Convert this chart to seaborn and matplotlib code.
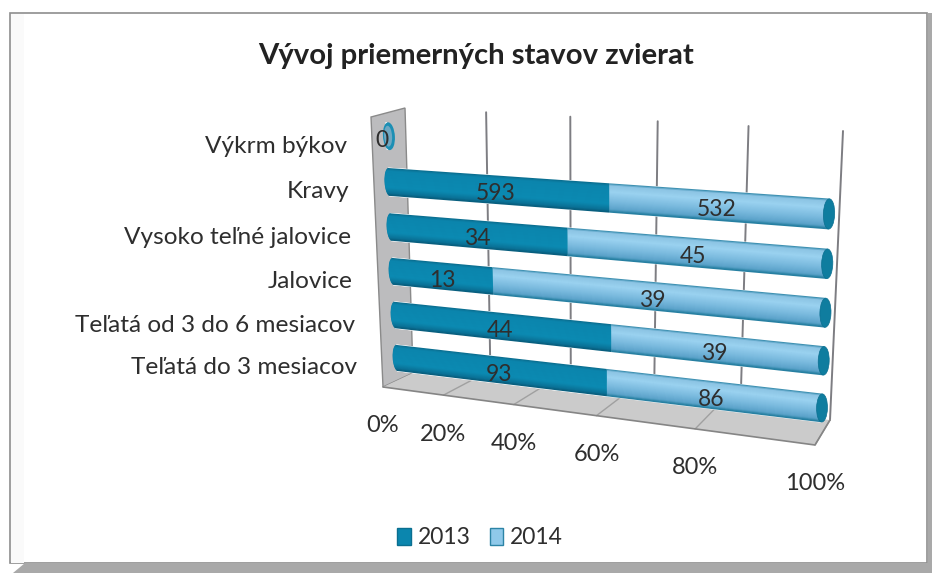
import numpy as np
import pandas as pd
import matplotlib
matplotlib.use("Agg")
import matplotlib.pyplot as plt
import matplotlib.transforms as mtransforms
from matplotlib.colors import LinearSegmentedColormap
from matplotlib.patches import Ellipse, Patch, Polygon, Rectangle
import seaborn as sns

# Data, top row first
categories = ["Výkrm býkov", "Kravy", "Vysoko teľné jalovice", "Jalovice",
              "Teľatá od 3 do 6 mesiacov", "Teľatá do 3 mesiacov"]
values_2013 = [0, 593, 34, 13, 44, 93]
values_2014 = [0, 532, 45, 39, 39, 86]
pct_ticks = [0, 20, 40, 60, 80, 100]
title = "Vývoj priemerných stavov zvierat"

W, H = 932, 573
sns.set_theme(style="white")
plt.rcParams["font.family"] = ["Lato", "DejaVu Sans"]
TEXT = "#2e2e2e"


class Perspective(mtransforms.Transform):
    # four corner homography, the chart was a tilted 3D one in the original
    input_dims = 2
    output_dims = 2
    has_inverse = False

    def __init__(self, src, dst):
        super().__init__()
        A, b = [], []
        for (x, y), (u, v) in zip(src, dst):
            A.append([x, y, 1, 0, 0, 0, -u * x, -u * y])
            A.append([0, 0, 0, x, y, 1, -v * x, -v * y])
            b += [u, v]
        self.m = np.append(np.linalg.solve(np.array(A, float), np.array(b, float)), 1).reshape(3, 3)

    def transform_non_affine(self, values):
        values = np.asarray(values, float)
        p = np.c_[values, np.ones(len(values))] @ self.m.T
        return p[:, :2] / p[:, 2:]


fig = plt.figure(figsize=(W / 100, H / 100), dpi=100, facecolor="white")
ax = fig.add_axes([0, 0, 1, 1])
ax.set_axis_off()

to_px = mtransforms.Affine2D().scale(1, -1).translate(0, H)
px = to_px + mtransforms.IdentityTransform()
bars_T = Perspective([(0, 1), (100, 1), (0, 5), (100, 5)],
                     [(389, 182), (829, 214), (397, 358), (822, 408)]) + to_px
back_T = Perspective([(0, 0), (100, 0), (0, 1), (100, 1)],
                     [(413, 373), (830, 420), (405, 108), (843, 131)]) + to_px
floor_T = Perspective([(0, 0), (100, 0), (0, 1), (100, 1)],
                      [(383, 387), (815, 445), (413, 373), (830, 420)]) + to_px

# paper, frame and shadow
ax.add_patch(Rectangle((10, 13), 917, 550, fc="white", ec="#8e8e8e", lw=1.2, transform=px, clip_on=False, zorder=0))
ax.add_patch(Rectangle((11, 14), 13, 549, fc="#fafafa", ec="none", transform=px, clip_on=False, zorder=0.2))
ax.add_patch(Polygon([(13, 573), (25, 563), (927.5, 563), (932, 563), (932, 573)], fc="#a9a9a9", ec="none",
                     transform=px, clip_on=False, zorder=0.5))
ax.add_patch(Rectangle((927.5, 13), 5, 552, fc="#a9a9a9", ec="none", transform=px, clip_on=False, zorder=0.5))

# walls
ax.add_patch(Polygon([(371, 117), (405, 108), (413, 373), (383, 387)], fc="#bcbcbe", ec="#8a8a8a", lw=1,
                     transform=px, clip_on=False, zorder=1))
ax.add_patch(Polygon([(0, 0), (100, 0), (100, 1), (0, 1)], fc="#cbcbcb", ec="none",
                     transform=floor_T, clip_on=False, zorder=1))
for t in pct_ticks[1:]:
    ax.plot([t, t], [0, 1], color="#7d7d82", lw=1.4, transform=back_T, clip_on=False, zorder=1.5)
    ax.plot([t, t], [0, 1], color="#a0a0a0", lw=1, transform=floor_T, clip_on=False, zorder=1.5)
ax.plot([0, 100, 100], [0, 0, 1], color="#858585", lw=1.2, transform=floor_T, clip_on=False, zorder=1.6)

# bars
df = pd.DataFrame({"category": categories, "y2013": values_2013, "y2014": values_2014})
df["total"] = df["y2013"] + df["y2014"]
df["share"] = (df["y2013"] / df["total"] * 100).fillna(0)
df["full"] = np.where(df["total"] > 0, 100.0, 0.0)

before = len(ax.patches)
sns.barplot(data=df, y="category", x="full", color="#8fc9ea", orient="y", width=0.6, saturation=1, ax=ax, zorder=2)
sns.barplot(data=df, y="category", x="share", color="#0b86ae", orient="y", width=0.6, saturation=1, ax=ax, zorder=2)
bar_patches = list(ax.patches[before:])

# cylinder shading in thin strips
dark_cm = LinearSegmentedColormap.from_list("d", [(0, "#0a6b8c"), (0.1, "#0b85ad"), (0.72, "#0b8ab2"),
                                                  (0.92, "#0a7196"), (1, "#075a7a")])
light_cm = LinearSegmentedColormap.from_list("l", [(0, "#2c84a6"), (0.08, "#8cc4e4"), (0.3, "#9ad2f0"),
                                                   (0.65, "#78b8dd"), (0.9, "#5aa2c9"), (1, "#1d7a9b")])
n_strips = 28
cap = 1.15
strip_h = 0.6 / n_strips
for i, row in df.iterrows():
    if row["total"] == 0:
        continue
    start = Ellipse((0, i), 2 * cap, 0.6, fc="#0b80a8", ec="none", zorder=2.05)
    ax.add_patch(start)
    bar_patches.append(start)
    for k in range(n_strips):
        u = (k + 0.5) / n_strips
        y = i - 0.3 + u * 0.6
        bulge = cap * np.sqrt(1 - (2 * u - 1) ** 2)
        bar_patches += ax.barh(y, 100 - row["share"], height=strip_h * 1.6, left=row["share"],
                               color=light_cm(u), lw=0, zorder=2.1).patches
        bar_patches += ax.barh(y, row["share"] + bulge * 0.9, height=strip_h * 1.6, left=-bulge * 0.9,
                               color=dark_cm(u), lw=0, zorder=2.2).patches
    end = Ellipse((100, i), 2 * cap, 0.6, fc="#0f7d9f", ec="#0b6f90", lw=0.5, zorder=2.3)
    ax.add_patch(end)
    bar_patches.append(end)

# the empty row only shows as a small disc
for i, row in df[df["total"] == 0].iterrows():
    outer = Ellipse((0.5, i), 3.0, 0.6, fc="#1c8fb4", ec="none", zorder=2.3)
    inner = Ellipse((0.3, i), 2.0, 0.45, fc="#6fa8c2", ec="none", zorder=2.4)
    ax.add_patch(outer)
    ax.add_patch(inner)
    bar_patches += [outer, inner]

for p in bar_patches:
    p.set_transform(bars_T)
    p.set_clip_on(False)

# value labels
for i, row in df.iterrows():
    if row["total"] == 0:
        ax.annotate(str(row["y2013"]), xy=(0, i), xycoords=bars_T, xytext=(-5, -4), textcoords="offset pixels",
                    ha="center", va="center", fontsize=16.5, color=TEXT, zorder=5)
        continue
    ax.annotate(str(row["y2013"]), xy=(row["share"] / 2, i), xycoords=bars_T, xytext=(0, -4),
                textcoords="offset pixels", ha="center", va="center", fontsize=16.5, color=TEXT, zorder=5)
    ax.annotate(str(row["y2014"]), xy=((row["share"] + 100) / 2, i), xycoords=bars_T, xytext=(0, -4),
                textcoords="offset pixels", ha="center", va="center", fontsize=16.5, color=TEXT, zorder=5)

# category labels and percent ticks
for i, name in enumerate(categories):
    ax.annotate(name, xy=(0, i), xycoords=bars_T, xytext=(-40, -10), textcoords="offset pixels",
                ha="right", va="center", fontsize=17.6, color=TEXT)
for t in pct_ticks:
    ax.annotate(f"{t}%", xy=(t, 0), xycoords=floor_T, xytext=(0, -39), textcoords="offset pixels",
                ha="center", va="center", fontsize=17, color=TEXT)

fig.text(476 / W, 1 - 56 / H, title, ha="center", va="center", fontsize=21.1, fontweight="bold", color="#222222")

handles = [Patch(fc="#0b86ae", ec="#0a6f90", label="2013"), Patch(fc="#8fc9ea", ec="#2c84a6", label="2014")]
fig.legend(handles=handles, loc="center", bbox_to_anchor=(480 / W, 1 - 538 / H), ncol=2, frameon=False,
           fontsize=16.5, handlelength=0.6, handleheight=0.7, handletextpad=0.3, columnspacing=0.85,
           labelcolor=TEXT)

ax.set_xlim(0, 100)
ax.set_ylim(5.5, -0.5)
fig.savefig("out.png", dpi=100)
